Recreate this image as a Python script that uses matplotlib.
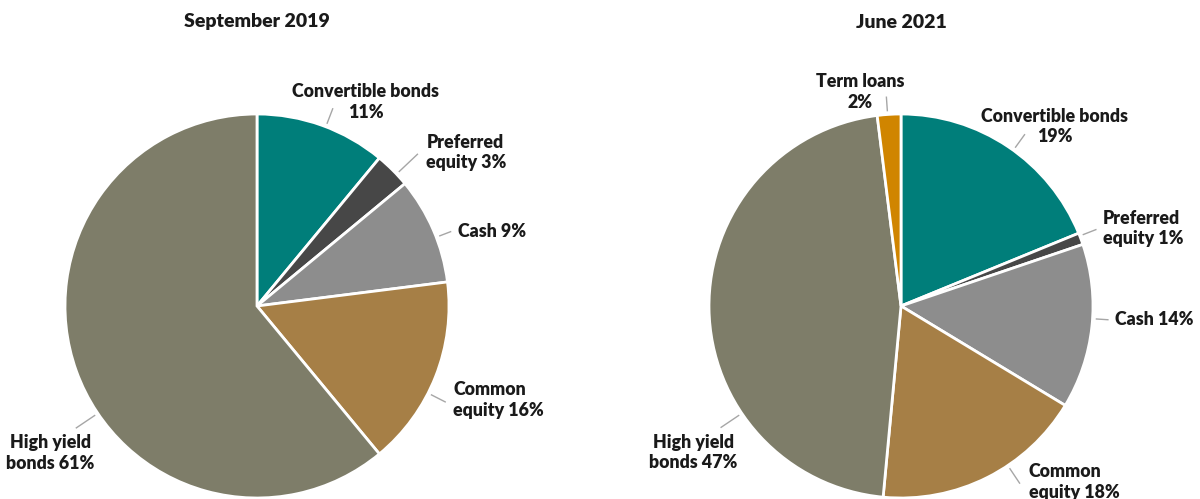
import matplotlib
matplotlib.use("Agg")
import matplotlib.pyplot as plt
import numpy as np

plt.rcParams["font.family"] = ["Lato", "DejaVu Sans"]

# Portfolio composition, September 2019
labels_2019 = ["Convertible bonds", "Preferred\nequity", "Cash", "Common\nequity", "High yield\nbonds"]
values_2019 = [11, 3, 9, 16, 61]
colors_2019 = ["#007E7A", "#474747", "#8D8D8D", "#A67F46", "#7E7D69"]

# Portfolio composition, June 2021
labels_2021 = ["Convertible bonds", "Preferred\nequity", "Cash", "Common\nequity", "High yield\nbonds", "Term loans"]
values_2021 = [19, 1, 14, 18, 47, 2]
colors_2021 = ["#007E7A", "#474747", "#8D8D8D", "#A67F46", "#7E7D69", "#D08500"]

# label layout: leader angle (deg clockwise from top), leader end radius,
# text offset in pixels, alignment, and whether the percentage goes on its own line
layout_2019 = [
    (21, 1.10, (33, 7), "center", True),
    (46.6, 1.15, (9, 2), "left", False),
    (69, 1.08, (7, 0), "left", False),
    (117, 1.10, (8, 2), "left", False),
    (236, 1.135, (-26, -25), "center", False),
]
layout_2021 = [
    (35.8, 1.10, (30, 8), "center", True),
    (68.6, 1.09, (7, 1), "left", False),
    (93.8, 1.08, (7, 0), "left", False),
    (146.2, 1.11, (9, 1), "left", False),
    (236, 1.13, (-28, -25), "center", False),
    (-4, 1.09, (-26, 5), "center", True),
]

W, H = 1200, 499
RADIUS_PX = 192
TEXT_COLOR = "#1A1A1A"
LABEL_SIZE = 12.8
TITLE_SIZE = 14


def draw_pie(fig, rect, cx_px, cy_px, title, labels, values, colors, layout):
    ax = fig.add_axes(rect)
    ax.pie(
        values,
        colors=colors,
        startangle=90,
        counterclock=False,
        radius=1.0,
        wedgeprops={"edgecolor": "white", "linewidth": 2},
    )
    # pixel-exact placement: 1 data unit == RADIUS_PX pixels
    x0 = rect[0] * W
    ax_w = rect[2] * W
    ax_h = rect[3] * H
    ax.set_aspect("auto")
    ax.set_xlim((x0 - cx_px) / RADIUS_PX, (x0 + ax_w - cx_px) / RADIUS_PX)
    ax.set_ylim((cy_px - ax_h) / RADIUS_PX, cy_px / RADIUS_PX)
    ax.axis("off")

    for label, value, (angle, r_end, offset, ha, newline) in zip(labels, values, layout):
        theta = np.deg2rad(angle)
        r_start = 1.02
        xs = [r_start * np.sin(theta), r_end * np.sin(theta)]
        ys = [r_start * np.cos(theta), r_end * np.cos(theta)]
        ax.plot(xs, ys, color="#A6A6A6", linewidth=1, clip_on=False)
        sep = "\n" if newline else " "
        ax.annotate(
            f"{label}{sep}{value}%",
            xy=(xs[1], ys[1]),
            xytext=offset,
            textcoords="offset pixels",
            ha=ha,
            va="center",
            multialignment=ha,
            fontsize=LABEL_SIZE,
            fontweight="heavy",
            color=TEXT_COLOR,
            linespacing=1.25,
            annotation_clip=False,
        )

    fig.text(cx_px / W, 1 - 22 / H, title, ha="center", va="center",
             fontsize=TITLE_SIZE, fontweight="heavy", color=TEXT_COLOR)
    return ax


fig = plt.figure(figsize=(W / 100, H / 100), dpi=100)
draw_pie(fig, [0, 0, 0.5, 1], 257, 306, "September 2019",
         labels_2019, values_2019, colors_2019, layout_2019)
draw_pie(fig, [0.5, 0, 0.5, 1], 901, 306, "June 2021",
         labels_2021, values_2021, colors_2021, layout_2021)

fig.savefig("out.png", dpi=100)
